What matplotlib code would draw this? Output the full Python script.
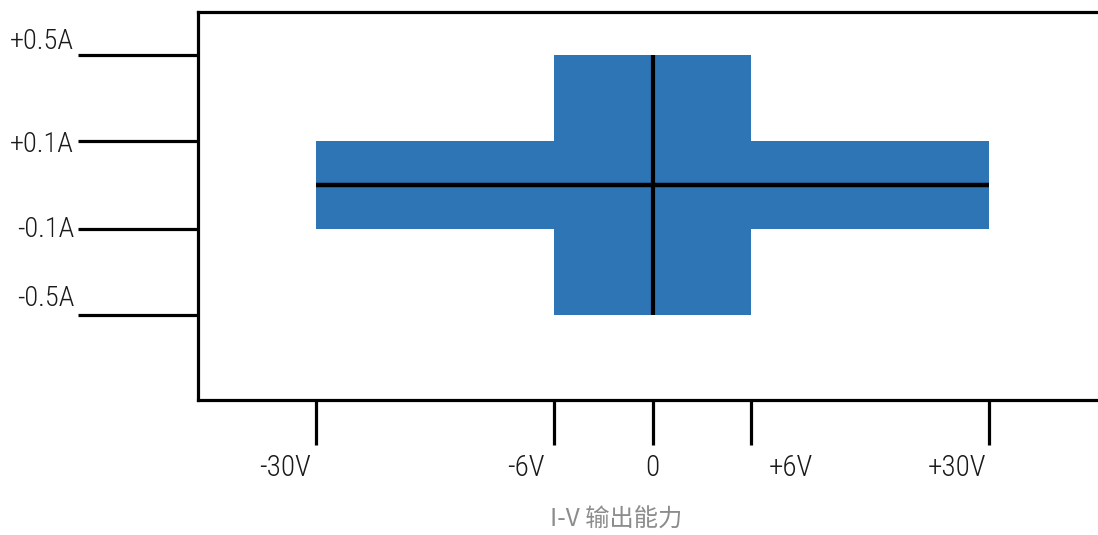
import numpy as np
import matplotlib
matplotlib.use("Agg")
import matplotlib.pyplot as plt
import matplotlib.transforms as mtransforms

# ---- data ----
voltage_ticks = [-30, -6, 0, 6, 30]
voltage_labels = ["-30V", "-6V", "0", "+6V", "+30V"]
current_ticks = [0.5, 0.1, -0.1, -0.5]
current_labels = ["+0.5A", "+0.1A", "-0.1A", "-0.5A"]
# operating regions: (v_min, v_max, i_min, i_max)
region_wide = (-30, 30, -0.1, 0.1)
region_tall = (-6, 6, -0.5, 0.5)

# ---- style ----
BLUE = "#2E75B6"
xlab_offsets_px = [-31, -28, 0, 40, -32]
ylab_offsets_px = [14, -4, -1, 16]


# piecewise-linear (non-uniform) scales
def v_fwd(v):
    v = np.asarray(v, dtype=float)
    a = np.abs(v)
    return np.where(a <= 6, v / 6, np.sign(v) * (1 + (a - 6) / 24 * 2.42))


def v_inv(u):
    u = np.asarray(u, dtype=float)
    a = np.abs(u)
    return np.where(a <= 1, u * 6, np.sign(u) * (6 + (a - 1) / 2.42 * 24))


def i_fwd(i):
    i = np.asarray(i, dtype=float)
    a = np.abs(i)
    return np.where(a <= 0.1, i / 0.1, np.sign(i) * (1 + (a - 0.1) / 0.4 * 1.95))


def i_inv(u):
    u = np.asarray(u, dtype=float)
    a = np.abs(u)
    return np.where(a <= 1, u * 0.1, np.sign(u) * (0.1 + (a - 1) / 1.95 * 0.4))


W, H = 1098, 535
fig = plt.figure(figsize=(W / 100, H / 100), dpi=100)
ax = fig.add_axes([198 / W, 1 - 400 / H, 1 - 198 / W + 0.05, 388 / H])

ax.set_xscale("function", functions=(v_fwd, v_inv))
ax.set_yscale("function", functions=(i_fwd, i_inv))
ax.set_xlim(float(v_inv(-4.62)), float(v_inv(5.08)))
ax.set_ylim(float(i_inv(-4.886)), float(i_inv(3.93)))

for (v0, v1, i0, i1) in (region_wide, region_tall):
    ax.fill_between([v0, v1], [i0, i0], [i1, i1], color=BLUE, lw=0, zorder=2)

ax.plot([region_wide[0], region_wide[1]], [0, 0], color="black", lw=3.2,
        solid_capstyle="butt", zorder=3)
ax.plot([0, 0], [region_tall[2], region_tall[3]], color="black", lw=3.0,
        solid_capstyle="butt", zorder=3)

for s in ax.spines.values():
    s.set_linewidth(2.3)
    s.set_color("black")

ax.set_xticks(voltage_ticks)
ax.set_yticks(current_ticks)
ax.set_xticklabels([])
ax.set_yticklabels([])
ax.minorticks_off()
ax.tick_params(axis="x", which="major", direction="out", length=32.4, width=2.3, color="black")
ax.tick_params(axis="y", which="major", direction="out", length=86.4, width=2.3, color="black")
ax.tick_params(which="minor", length=0)

font = ["Roboto Condensed", "Archivo Narrow", "PT Sans Narrow",
        "IBM Plex Sans Condensed", "Liberation Sans", "DejaVu Sans"]
for v, lab, off in zip(voltage_ticks, voltage_labels, xlab_offsets_px):
    tr = mtransforms.blended_transform_factory(ax.transData, fig.transFigure)
    tr = tr + mtransforms.ScaledTranslation(off / 100, 0, fig.dpi_scale_trans)
    ax.text(v, 1 - 468 / H, lab, transform=tr, ha="center", va="center",
            fontsize=21, family=font, fontweight="light", color="#1a1a1a")

for c, lab, off in zip(current_ticks, current_labels, ylab_offsets_px):
    tr = mtransforms.blended_transform_factory(fig.transFigure, ax.transData)
    tr = tr + mtransforms.ScaledTranslation(0, off / 100, fig.dpi_scale_trans)
    ax.text(74 / W, c, lab, transform=tr, ha="right", va="center",
            fontsize=20.5, family=font, fontweight="light", color="#1a1a1a",
            clip_on=False)

fig.text(616 / W, 1 - 520 / H, "I-V 输出能力", ha="center", va="center",
         fontsize=17.5, color="#8c8c8c", fontweight="light",
         family=["Noto Sans CJK SC", "DejaVu Sans"])

fig.savefig("out.png", dpi=100)
